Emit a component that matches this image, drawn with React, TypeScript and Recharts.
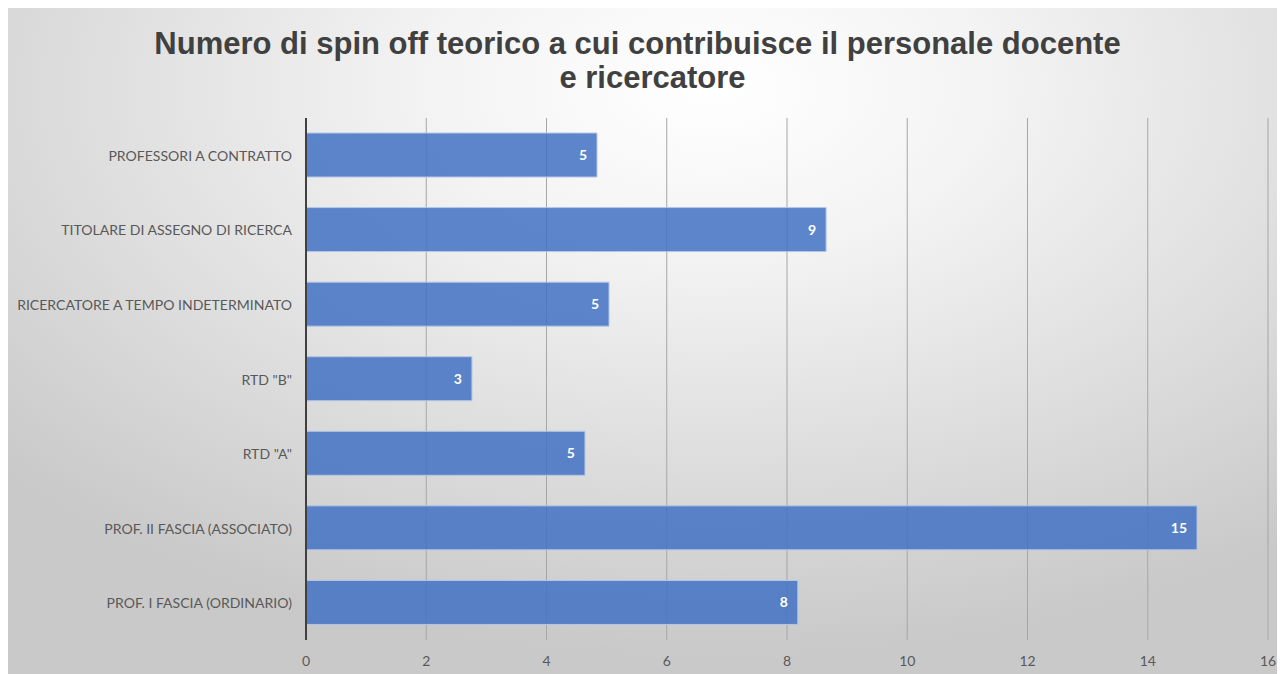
import React from "react";
import { BarChart, Bar, XAxis, YAxis, CartesianGrid, LabelList } from "recharts";

const categories = [
  "PROFESSORI A CONTRATTO",
  "TITOLARE DI ASSEGNO DI RICERCA",
  "RICERCATORE A TEMPO INDETERMINATO",
  'RTD "B"',
  'RTD "A"',
  "PROF. II FASCIA (ASSOCIATO)",
  "PROF. I FASCIA (ORDINARIO)",
];
const values = [4.84, 8.65, 5.04, 2.76, 4.64, 14.82, 8.18];
const valueLabels = ["5", "9", "5", "3", "5", "15", "8"];
const xTicks = [0, 2, 4, 6, 8, 10, 12, 14, 16];
const titleLines = ["Numero di spin off teorico a cui contribuisce il personale docente", "e ricercatore"];

const data = categories.map((c, i) => ({ name: c, value: values[i], label: valueLabels[i] }));

const W = 1277;
const H = 666;
const FONT = "Lato, 'Open Sans', sans-serif";
const titleShift = [-9, 6];

const CatTick = (props: any) => {
  const { x, y, payload } = props;
  return (
    <text
      x={x - 6}
      y={y}
      textAnchor="end"
      dominantBaseline="central"
      fill="#595959"
      fontSize={14.05}
      fontFamily={FONT}
    >
      {payload.value}
    </text>
  );
};

export default function App() {
  return (
    <div
      style={{
        position: "relative",
        width: W,
        height: H,
        background:
          "radial-gradient(ellipse 75% 85% at 55% 12%, #ffffff 0%, #f3f3f3 30%, #dedede 65%, #c9c9c9 100%)",
      }}
    >
      <div
        style={{
          position: "absolute",
          left: 0,
          top: 19,
          width: W,
          textAlign: "center",
          fontFamily: "'Liberation Sans', Arial, sans-serif",
          fontWeight: "bold",
          fontSize: 31,
          lineHeight: "34px",
          color: "#404040",
        }}
      >
        {titleLines.map((t, i) => (
          <div key={i} style={{ transform: `translateX(${titleShift[i]}px)` }}>
            {t}
          </div>
        ))}
      </div>
      <BarChart
        width={W}
        height={H}
        data={data}
        layout="vertical"
        margin={{ top: 110, right: 17, bottom: 4, left: 0 }}
        barSize={44}
        style={{ position: "absolute", left: 0, top: 0 }}
      >
        <CartesianGrid horizontal={false} vertical={true} stroke="#a6a6a6" strokeWidth={1} />
        <XAxis
          type="number"
          domain={[0, 16]}
          ticks={xTicks}
          interval={0}
          height={30}
          axisLine={false}
          tickLine={false}
          tickMargin={10}
          tick={{ fill: "#595959", fontSize: 14, fontFamily: FONT }}
        />
        <YAxis
          type="category"
          dataKey="name"
          width={298}
          axisLine={{ stroke: "#404040", strokeWidth: 2 }}
          tickLine={false}
          interval={0}
          tick={<CatTick />}
        />
        <Bar
          dataKey="value"
          fill="#4472c4"
          fillOpacity={0.86}
          stroke="#b4c7e7"
          strokeWidth={1}
          isAnimationActive={false}
        >
          <LabelList
            dataKey="label"
            position="insideRight"
            offset={10}
            fill="#ffffff"
            fontSize={14}
            fontWeight="bold"
            fontFamily={FONT}
          />
        </Bar>
      </BarChart>
    </div>
  );
}
